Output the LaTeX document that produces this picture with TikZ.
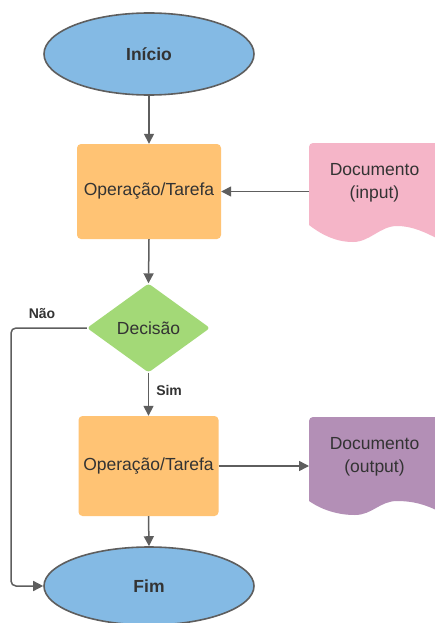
\documentclass[tikz,border=0pt]{standalone}
\usepackage{fontspec}
\setmainfont{Liberation Sans}
\usetikzlibrary{shapes.geometric,arrows.meta}

\definecolor{termfill}{HTML}{84BAE4}
\definecolor{taskfill}{HTML}{FFC374}
\definecolor{decfill}{HTML}{A3D977}
\definecolor{inpfill}{HTML}{F5B5C8}
\definecolor{outfill}{HTML}{B38FB6}
\definecolor{edge}{HTML}{5E5E5E}
\definecolor{ink}{HTML}{333333}

\tikzset{
  base/.style={text=ink, font=\fontsize{17.5}{23}\selectfont, align=center, inner sep=0pt},
  terminal/.style={base, ellipse, draw=edge, line width=1.6pt, fill=termfill,
    minimum width=210pt, font=\fontsize{17.5}{23}\selectfont\bfseries},
  taskbox/.style={base, rectangle, rounded corners=4pt, fill=taskfill},
  decbox/.style={base, diamond, rounded corners=3pt, fill=decfill,
    minimum width=123pt, minimum height=89pt, aspect=1.38},
  doctext/.style={base},
  flowarrow/.style={draw=edge, line width=1.5pt, -{Triangle[length=10pt,width=10pt]}},
  edgelabel/.style={text=ink, font=\fontsize{14}{16}\selectfont\bfseries, inner sep=0pt}
}

\begin{document}
\begin{tikzpicture}[x=1pt, y=-1pt]
\clip (0,0) rectangle (435,623);
\fill[white] (0,0) rectangle (435,623);

% terminals
\node[terminal, minimum height=82pt] (start) at (149,54) {Início};
\node[terminal, minimum height=78pt] (finish) at (149,586) {Fim};

% tasks
\node[taskbox, minimum width=144pt, minimum height=95pt] (task1) at (149,191.5) {Operação/Tarefa};
\node[taskbox, minimum width=140pt, minimum height=100pt] (task2) at (148.5,466) {Operação/Tarefa};

% decision
\node[decbox] (dec) at (148.5,328) {Decisão};

% documents with a wavy lower edge
\fill[inpfill] (309,225) [rounded corners=4pt] -- (309,143) -- (440,143) [sharp corners] -- (440,240)
  .. controls (425,232) and (412,226) .. (397,226)
  .. controls (380,226) and (370,242) .. (353,242)
  .. controls (336,242) and (322,235) .. (309,225) -- cycle;
\node[doctext] (docin) at (374.5,183) {Documento\\(input)};
\coordinate (docinL) at (309,191.5);

\fill[outfill] (309,501) [rounded corners=4pt] -- (309,417) -- (440,417) [sharp corners] -- (440,512)
  .. controls (425,504) and (412,501) .. (397,501)
  .. controls (380,501) and (372,515) .. (355,515)
  .. controls (338,515) and (322,510) .. (309,501) -- cycle;
\node[doctext] (docout) at (374.5,457) {Documento\\(output)};
\coordinate (docoutL) at (309,466);

% connectors
\draw[flowarrow] (start.south) -- (task1.north);
\draw[flowarrow] (docinL) -- (task1.east);
\draw[flowarrow] (task1.south) -- (dec.north);
\draw[flowarrow] (dec.south) -- node[edgelabel, right=7pt, pos=0.42] (sim) {Sim} (task2.north);
\draw[flowarrow] (task2.east) -- (docoutL);
\draw[flowarrow] (task2.south) -- (finish.north);
\coordinate (bendTop) at (11,328);
\coordinate (bendBot) at (11,586);
\draw[flowarrow, rounded corners=5pt] (dec.west) -- (bendTop) -- (bendBot) -- (finish.west);
\node[edgelabel] (nao) at (42,314) {Não};
\end{tikzpicture}
\end{document}
